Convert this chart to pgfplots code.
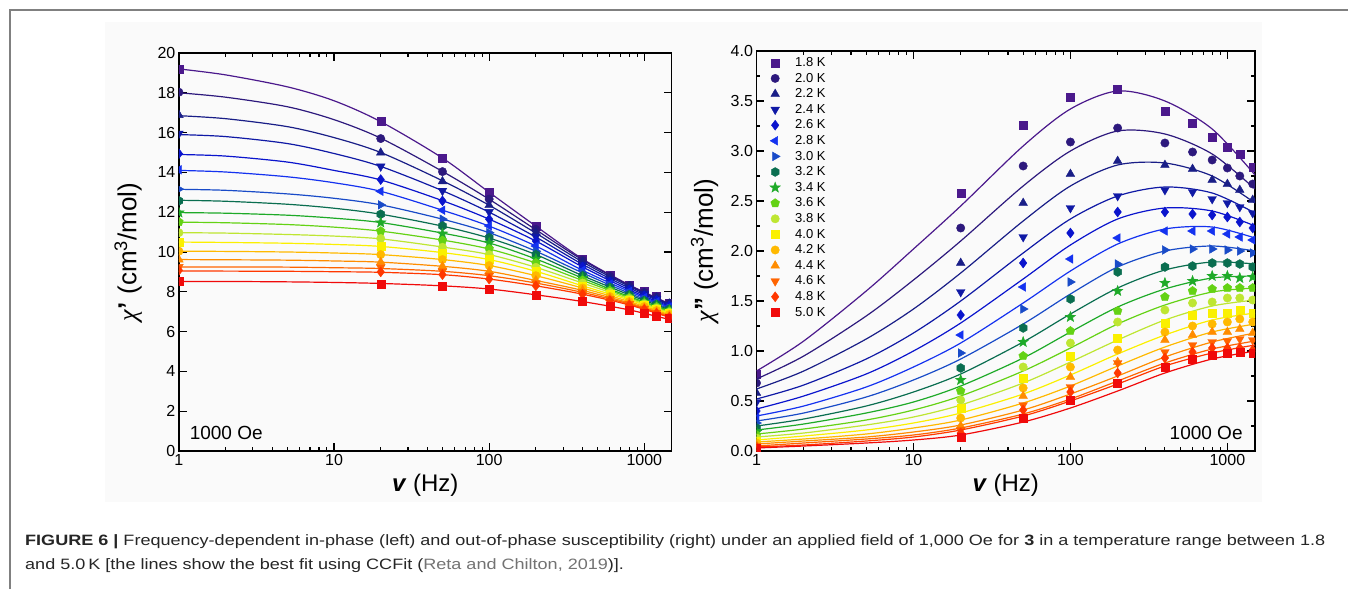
\documentclass[border=0pt]{standalone}
\usepackage{fontspec}
\setmainfont{Liberation Sans}
\newfontfamily\serfont{Liberation Serif}
\usepackage{graphicx}
\usepackage{pgfplots}
\pgfplotsset{compat=1.18}
\usepackage{pgfplotstable}
\usetikzlibrary{plotmarks}

\definecolor{c18}{RGB}{75,25,140}
\definecolor{c20}{RGB}{45,25,125}
\definecolor{c22}{RGB}{25,30,135}
\definecolor{c24}{RGB}{15,25,165}
\definecolor{c26}{RGB}{10,20,205}
\definecolor{c28}{RGB}{20,50,240}
\definecolor{c30}{RGB}{25,75,200}
\definecolor{c32}{RGB}{10,110,80}
\definecolor{c34}{RGB}{30,170,40}
\definecolor{c36}{RGB}{100,210,20}
\definecolor{c38}{RGB}{190,230,50}
\definecolor{c40}{RGB}{250,240,0}
\definecolor{c42}{RGB}{255,185,0}
\definecolor{c44}{RGB}{255,140,0}
\definecolor{c46}{RGB}{255,100,0}
\definecolor{c48}{RGB}{255,55,0}
\definecolor{c50}{RGB}{240,10,10}
\definecolor{bgc}{RGB}{250,250,250}

\pgfdeclareplotmark{hexagon*}{%
  \pgfpathmoveto{\pgfpointpolar{90}{\pgfplotmarksize}}%
  \pgfpathlineto{\pgfpointpolar{150}{\pgfplotmarksize}}%
  \pgfpathlineto{\pgfpointpolar{210}{\pgfplotmarksize}}%
  \pgfpathlineto{\pgfpointpolar{270}{\pgfplotmarksize}}%
  \pgfpathlineto{\pgfpointpolar{330}{\pgfplotmarksize}}%
  \pgfpathlineto{\pgfpointpolar{30}{\pgfplotmarksize}}%
  \pgfpathclose\pgfusepathqfillstroke}
\pgfdeclareplotmark{fstar}{%
  \pgfpathmoveto{\pgfpointpolar{90}{1.2*\pgfplotmarksize}}%
  \pgfpathlineto{\pgfpointpolar{126}{0.5*\pgfplotmarksize}}%
  \pgfpathlineto{\pgfpointpolar{162}{1.2*\pgfplotmarksize}}%
  \pgfpathlineto{\pgfpointpolar{198}{0.5*\pgfplotmarksize}}%
  \pgfpathlineto{\pgfpointpolar{234}{1.2*\pgfplotmarksize}}%
  \pgfpathlineto{\pgfpointpolar{270}{0.5*\pgfplotmarksize}}%
  \pgfpathlineto{\pgfpointpolar{306}{1.2*\pgfplotmarksize}}%
  \pgfpathlineto{\pgfpointpolar{342}{0.5*\pgfplotmarksize}}%
  \pgfpathlineto{\pgfpointpolar{18}{1.2*\pgfplotmarksize}}%
  \pgfpathlineto{\pgfpointpolar{54}{0.5*\pgfplotmarksize}}%
  \pgfpathclose\pgfusepathqfillstroke}

\pgfplotsset{lm/.style={legend image code/.code={%
  \draw[##1] plot coordinates {(0pt,0pt)};
  \path[draw=none,fill=none] (-9pt,-6pt) rectangle (20pt,6pt);}}}

% chi' fit lines (left)
\pgfplotstableread{
f    T18   T20   T22   T24   T26   T28   T30   T32   T34   T36   T38   T40   T42   T44  T46  T48  T50
1    19.20 18.00 16.85 15.90 14.90 14.10 13.15 12.60 11.98 11.50 10.97 10.50 10.04 9.62 9.25 9.05 8.52
2    18.90 17.78 16.70 15.80 14.82 14.02 13.10 12.55 11.95 11.47 10.95 10.48 10.03 9.61 9.25 9.04 8.52
5    18.30 17.30 16.30 15.45 14.52 13.78 12.92 12.40 11.85 11.38 10.88 10.44 10.00 9.59 9.24 9.03 8.50
10   17.60 16.65 15.75 14.95 14.10 13.48 12.70 12.20 11.70 11.25 10.80 10.38 9.95  9.55 9.21 9.01 8.47
20   16.55 15.72 15.00 14.30 13.62 13.05 12.37 11.90 11.48 11.05 10.66 10.28 9.87  9.49 9.17 8.98 8.42
50   14.72 14.05 13.58 13.08 12.58 12.10 11.65 11.30 10.95 10.60 10.25 9.97  9.62  9.28 9.03 8.86 8.30
100  13.00 12.65 12.35 12.00 11.65 11.30 10.97 10.70 10.45 10.15 9.87  9.62  9.32  9.03 8.81 8.64 8.14
200  11.30 11.12 10.95 10.75 10.55 10.30 10.04 9.87  9.65  9.45  9.23  9.03  8.81  8.57 8.44 8.30 7.85
400  9.65  9.60  9.50  9.38  9.25  9.08  8.95  8.81  8.69  8.57  8.44  8.30  8.19  8.07 7.97 7.88 7.51
800  8.35  8.32  8.27  8.19  8.10  8.02  7.93  7.85  7.76  7.71  7.65  7.59  7.51  7.44 7.39 7.34 7.09
1500 7.35  7.33  7.31  7.27  7.22  7.17  7.11  7.06  7.01  6.96  6.91  6.86  6.81  6.76 6.72 6.68 6.58
}\chiAf

% chi' data (left)
\pgfplotstableread{
f    T18   T20   T22   T24   T26   T28   T30   T32   T34   T36   T38   T40   T42   T44  T46  T48  T50
1    19.21 18.03 16.88 15.95 14.94 14.13 13.16 12.57 11.98 11.51 10.97 10.50 10.04 9.62 9.25 9.08 8.52
20   16.59 15.70 14.99 14.30 13.64 13.05 12.37 11.90 11.48 11.05 10.68 10.30 9.87  9.49 9.23 9.00 8.39
50   14.72 14.04 13.55 13.08 12.57 12.10 11.65 11.31 10.92 10.58 10.24 9.96  9.62  9.28 9.03 8.86 8.30
100  13.03 12.66 12.35 12.02 11.65 11.31 10.97 10.72 10.46 10.16 9.87  9.62  9.32  9.03 8.81 8.64 8.14
200  11.31 11.14 10.97 10.77 10.55 10.30 10.04 9.87  9.65  9.45  9.23  9.03  8.81  8.57 8.44 8.30 7.85
400  9.65  9.59  9.49  9.37  9.25  9.08  8.95  8.81  8.69  8.57  8.44  8.30  8.19  8.07 7.97 7.88 7.51
600  8.81  8.78  8.69  8.61  8.49  8.39  8.30  8.22  8.14  8.05  7.97  7.88  7.76  7.68 7.63 7.56 7.26
800  8.35  8.32  8.27  8.19  8.10  8.02  7.93  7.85  7.76  7.71  7.65  7.59  7.51  7.44 7.39 7.34 7.09
1000 8.02  7.97  7.93  7.88  7.80  7.71  7.63  7.56  7.49  7.43  7.38  7.32  7.26  7.19 7.16 7.12 6.92
1200 7.78  7.74  7.70  7.64  7.57  7.50  7.43  7.37  7.30  7.24  7.18  7.12  7.06  7.00 6.95 6.92 6.78
1450 7.45  7.43  7.40  7.35  7.30  7.24  7.18  7.13  7.07  7.02  6.97  6.92  6.86  6.80 6.76 6.72 6.65
}\chiAm

% chi'' fit lines (right)
\pgfplotstableread{
f    T18  T20  T22  T24  T26  T28  T30  T32  T34  T36  T38  T40  T42  T44  T46  T48  T50
1    0.80 0.72 0.62 0.52 0.42 0.35 0.30 0.25 0.21 0.17 0.14 0.11 0.09 0.07 0.05 0.04 0.03
2    1.10 0.95 0.80 0.66 0.55 0.45 0.38 0.32 0.27 0.22 0.18 0.15 0.12 0.10 0.08 0.06 0.05
5    1.60 1.35 1.12 0.92 0.77 0.64 0.54 0.45 0.38 0.31 0.26 0.21 0.17 0.14 0.12 0.10 0.08
10   2.02 1.71 1.42 1.18 1.00 0.84 0.71 0.59 0.49 0.41 0.34 0.28 0.23 0.19 0.16 0.14 0.11
20   2.45 2.10 1.78 1.50 1.28 1.08 0.92 0.77 0.65 0.55 0.46 0.38 0.31 0.26 0.23 0.21 0.16
50   3.05 2.65 2.30 1.98 1.72 1.48 1.27 1.09 0.93 0.80 0.68 0.57 0.48 0.41 0.37 0.35 0.29
100  3.42 3.00 2.65 2.32 2.06 1.80 1.57 1.37 1.19 1.03 0.89 0.76 0.65 0.57 0.52 0.50 0.43
200  3.60 3.20 2.86 2.55 2.32 2.07 1.84 1.63 1.44 1.27 1.11 0.97 0.85 0.75 0.70 0.67 0.60
400  3.50 3.17 2.88 2.64 2.43 2.22 2.00 1.81 1.62 1.46 1.31 1.16 1.04 0.94 0.88 0.85 0.78
800  3.22 2.97 2.75 2.58 2.40 2.24 2.05 1.89 1.73 1.59 1.45 1.31 1.19 1.09 1.02 0.98 0.92
1500 2.76 2.62 2.48 2.38 2.25 2.13 2.00 1.87 1.75 1.63 1.51 1.38 1.27 1.18 1.10 1.06 1.00
}\chiBf

% chi'' data (right)
\pgfplotstableread{
f    T18  T20  T22  T24  T26  T28  T30  T32  T34  T36  T38  T40  T42  T44  T46  T48  T50
1    0.77 0.68 0.58 0.49 0.40 0.33 0.28 0.23 0.19 0.16 0.13 0.10 0.08 0.06 0.05 0.04 0.03
20   2.58 2.23 1.88 1.59 1.36 1.16 0.98 0.83 0.71 0.60 0.51 0.43 0.33 0.25 0.21 0.18 0.14
50   3.26 2.85 2.48 2.14 1.88 1.64 1.42 1.23 1.09 0.95 0.84 0.73 0.63 0.55 0.46 0.41 0.33
100  3.54 3.09 2.77 2.43 2.18 1.92 1.69 1.52 1.34 1.20 1.08 0.95 0.84 0.74 0.64 0.59 0.51
200  3.62 3.23 2.90 2.55 2.39 2.13 1.87 1.79 1.60 1.40 1.29 1.13 1.01 0.89 0.88 0.78 0.68
400  3.40 3.08 2.86 2.61 2.39 2.20 2.01 1.84 1.68 1.54 1.41 1.28 1.19 1.11 0.99 0.93 0.84
600  3.28 2.99 2.82 2.59 2.37 2.20 2.02 1.85 1.70 1.60 1.48 1.36 1.25 1.16 1.06 0.99 0.92
800  3.14 2.91 2.71 2.52 2.36 2.20 2.02 1.88 1.75 1.62 1.49 1.38 1.27 1.19 1.09 1.03 0.96
1000 3.04 2.83 2.67 2.48 2.34 2.17 2.01 1.88 1.75 1.63 1.53 1.38 1.29 1.19 1.10 1.03 0.98
1200 2.97 2.75 2.61 2.44 2.29 2.14 2.00 1.87 1.73 1.63 1.53 1.41 1.32 1.22 1.12 1.03 0.99
1450 2.84 2.67 2.51 2.38 2.23 2.11 1.98 1.84 1.74 1.63 1.51 1.38 1.29 1.18 1.11 1.01 0.98
}\chiBm

\newcommand\Ser[7]{%
  \addplot[color=#4, line width=1.2pt, smooth, mark=none, forget plot] table[x=f,y=#3]{#1};
  \addplot[color=#4, only marks, mark=#5, mark size=#6, mark options={solid, fill=#4, #7}, lm] table[x=f,y=#3]{#2};
}
\newcommand\AllSer[2]{%
  \Ser{#1}{#2}{T18}{c18}{square*}{4pt}{}\addlegendentry{1.8 K}
  \Ser{#1}{#2}{T20}{c20}{*}{4.2pt}{}\addlegendentry{2.0 K}
  \Ser{#1}{#2}{T22}{c22}{triangle*}{5pt}{}\addlegendentry{2.2 K}
  \Ser{#1}{#2}{T24}{c24}{triangle*}{5pt}{rotate=180}\addlegendentry{2.4 K}
  \Ser{#1}{#2}{T26}{c26}{diamond*}{5pt}{}\addlegendentry{2.6 K}
  \Ser{#1}{#2}{T28}{c28}{triangle*}{5pt}{rotate=90}\addlegendentry{2.8 K}
  \Ser{#1}{#2}{T30}{c30}{triangle*}{5pt}{rotate=-90}\addlegendentry{3.0 K}
  \Ser{#1}{#2}{T32}{c32}{hexagon*}{4.5pt}{}\addlegendentry{3.2 K}
  \Ser{#1}{#2}{T34}{c34}{fstar}{4.6pt}{}\addlegendentry{3.4 K}
  \Ser{#1}{#2}{T36}{c36}{pentagon*}{4.6pt}{}\addlegendentry{3.6 K}
  \Ser{#1}{#2}{T38}{c38}{*}{4.2pt}{}\addlegendentry{3.8 K}
  \Ser{#1}{#2}{T40}{c40}{square*}{4pt}{}\addlegendentry{4.0 K}
  \Ser{#1}{#2}{T42}{c42}{*}{4.2pt}{}\addlegendentry{4.2 K}
  \Ser{#1}{#2}{T44}{c44}{triangle*}{5pt}{}\addlegendentry{4.4 K}
  \Ser{#1}{#2}{T46}{c46}{triangle*}{5pt}{rotate=180}\addlegendentry{4.6 K}
  \Ser{#1}{#2}{T48}{c48}{diamond*}{5pt}{}\addlegendentry{4.8 K}
  \Ser{#1}{#2}{T50}{c50}{square*}{4pt}{}\addlegendentry{5.0 K}
}

\newsavebox\capbox
\newlength\capw
\newcommand\capfont{\fontsize{15}{18}\selectfont}
\newcommand\capA{\textbf{FIGURE 6 |} Frequency-dependent in-phase (left) and out-of-phase susceptibility (right) under an applied field of 1,000 Oe for \textbf{3} in a temperature range between 1.8}
\newcommand\capB{and 5.0\,K [the lines show the best fit using CCFit (\textcolor{black!55}{Reta and Chilton, 2019})].}

\begin{document}
\sbox\capbox{\capfont\capA}%
\setlength\capw{\wd\capbox}%
\pgfmathsetmacro\capscale{1300/\capw}%
\begin{tikzpicture}
\useasboundingbox (0pt,0pt) rectangle (1348pt,-589pt);
\fill[white] (0pt,0pt) rectangle (1348pt,-589pt);
\fill[bgc] (105pt,-22pt) rectangle (1262pt,-502pt);
\draw[black!50, line width=1.3pt] (10pt,-589pt) -- (10pt,-10pt) -- (1348pt,-10pt);

% left panel
\begin{axis}[
  xmode=log,
  at={(178.9pt,-451pt)}, anchor=south west,
  scale only axis, width=492.7pt, height=398pt,
  xmin=1, xmax=1500, ymin=0, ymax=20, ytick={0,2,...,20},
  xtick={1,10,100,1000}, xticklabels={1,10,100,1000},
  minor xtick={2,3,4,5,6,7,8,9,20,30,40,50,60,70,80,90,200,300,400,500,600,700,800,900},
  tick align=inside, major tick length=8pt, minor tick length=4pt,
  axis line style={line width=1.3pt},
  every tick/.style={line width=1.1pt, black},
  tick label style={font=\fontsize{16}{18}\selectfont},
  /pgf/number format/assume math mode=true,
  clip marker paths=true,
  xlabel={\textbf{\textit{v}} (Hz)},
  xlabel style={at={(axis description cs:0.5,-0.085)}, anchor=center, font=\fontsize{24}{28}\selectfont},
  ylabel={{\serfont\itshape χ}\textbf{'} (cm\textsuperscript{3}/mol)},
  ylabel style={at={(axis description cs:-0.103,0.5)}, anchor=center, font=\fontsize{26}{30}\selectfont},
]
\AllSer{\chiAf}{\chiAm}
\legend{}
\node[font=\fontsize{18.5}{20}\selectfont] at (axis description cs:0.483,1.028) {complex \textbf{3} (4-bromobenzoate)};
\node[font=\fontsize{19}{20}\selectfont] at (axis description cs:0.096,0.045) {1000 Oe};
\end{axis}

% right panel
\begin{axis}[
  xmode=log,
  at={(756.5pt,-451pt)}, anchor=south west,
  scale only axis, width=498.5pt, height=400pt,
  xmin=1, xmax=1500, ymin=0, ymax=4, ytick={0,0.5,...,4}, minor y tick num=1,
  xtick={1,10,100,1000}, xticklabels={1,10,100,1000},
  minor xtick={2,3,4,5,6,7,8,9,20,30,40,50,60,70,80,90,200,300,400,500,600,700,800,900},
  tick align=inside, major tick length=8pt, minor tick length=4pt,
  axis line style={line width=1.3pt},
  every tick/.style={line width=1.1pt, black},
  tick label style={font=\fontsize{16}{18}\selectfont},
  /pgf/number format/assume math mode=true,
  yticklabel style={/pgf/number format/.cd, fixed, fixed zerofill, precision=1},
  clip marker paths=true,
  xlabel={\textbf{\textit{v}} (Hz)},
  xlabel style={at={(axis description cs:0.5,-0.085)}, anchor=center, font=\fontsize{24}{28}\selectfont},
  ylabel={{\serfont\itshape χ}\textbf{''} (cm\textsuperscript{3}/mol)},
  ylabel style={at={(axis description cs:-0.104,0.5)}, anchor=center, font=\fontsize{26}{30}\selectfont},
  legend cell align=left,
  legend style={at={(axis description cs:0.019,0.986)}, anchor=north west,
    draw=none, fill=none, inner sep=0pt, row sep=3.6pt,
    font=\fontsize{13}{13}\selectfont, nodes={inner sep=0pt}},
]
\AllSer{\chiBf}{\chiBm}
\node[font=\fontsize{18.5}{20}\selectfont] at (axis description cs:0.5125,1.025) {complex \textbf{3} (4-bromobenzoate)};
\node[font=\fontsize{19}{20}\selectfont] at (axis description cs:0.902,0.045) {1000 Oe};
\end{axis}

\node[anchor=base west, inner sep=0pt] at (25pt,-545pt) {\scalebox{\capscale}[1]{\capfont\color{black!85}\capA}};
\node[anchor=base west, inner sep=0pt] at (25pt,-569pt) {\scalebox{\capscale}[1]{\capfont\color{black!85}\capB}};
\end{tikzpicture}
\end{document}
